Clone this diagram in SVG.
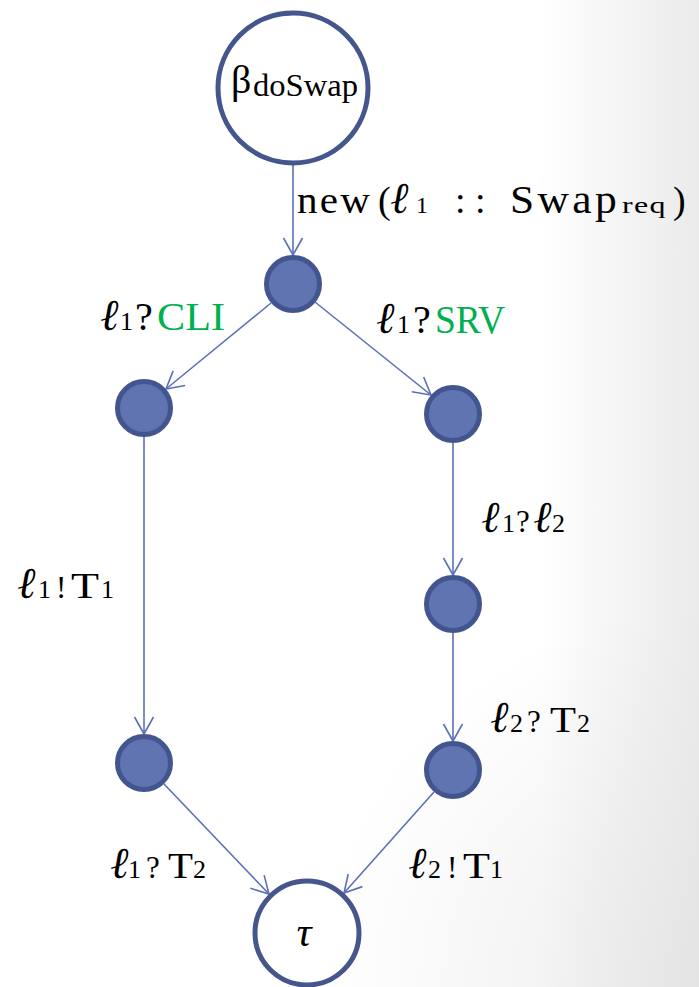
<svg xmlns="http://www.w3.org/2000/svg" width="699" height="987" viewBox="0 0 699 987">
<defs>
<linearGradient id="bgH" gradientUnits="userSpaceOnUse" x1="540" y1="0" x2="699" y2="0">
<stop offset="0" stop-color="#e2e2e2" stop-opacity="0"/>
<stop offset="1" stop-color="#e2e2e2" stop-opacity="0.7"/>
</linearGradient>
<radialGradient id="bgR" gradientUnits="userSpaceOnUse" cx="699" cy="987" r="380">
<stop offset="0" stop-color="#e0e0e0" stop-opacity="0.6"/>
<stop offset="1" stop-color="#e0e0e0" stop-opacity="0"/>
</radialGradient>
<marker id="arr" markerUnits="userSpaceOnUse" markerWidth="24" markerHeight="24" viewBox="-20 -12 24 24" refX="0" refY="0" orient="auto">
<path d="M-17,-9.5 L0,0 L-17,9.5" fill="none" stroke="#5b70b8" stroke-width="1.6"/>
</marker>
</defs>
<style>
.big{fill:#fff;stroke:#45568c;stroke-width:5}
.dot{fill:#5f74b0;stroke:#43558e;stroke-width:5}
.edge{stroke:#5b70b8;stroke-width:1.6;fill:none;marker-end:url(#arr)}
text{font-family:"Liberation Serif",serif;fill:#000}
.ell{font-weight:bold;font-style:italic;font-size:44px}
.sub{font-size:26px}
.g{font-size:31px}
.tt{font-size:35px}
.cl{fill:#00b050;font-size:41px}
</style>
<rect width="699" height="987" fill="#fff"/>
<rect width="699" height="987" fill="url(#bgH)"/>
<rect width="699" height="987" fill="url(#bgR)"/>

<g id="connectors">
<line class="edge" x1="293" y1="165" x2="293" y2="255"/>
<line class="edge" x1="271" y1="303" x2="166" y2="389"/>
<line class="edge" x1="315" y1="302" x2="431" y2="395"/>
<line class="edge" x1="144" y1="437" x2="144" y2="734"/>
<line class="edge" x1="453" y1="443" x2="453" y2="575"/>
<line class="edge" x1="453" y1="633" x2="453" y2="741"/>
<line class="edge" x1="164" y1="784" x2="269" y2="894"/>
<line class="edge" x1="434" y1="792" x2="344" y2="893"/>
</g>

<g id="n-start">
<circle class="big" cx="293" cy="88" r="75"/>
<text y="93"><tspan x="231" font-size="40px">β</tspan><tspan x="253" y="96" font-size="31px" textLength="105" lengthAdjust="spacingAndGlyphs">doSwap</tspan></text>
</g>
<g id="n-a"><circle class="dot" cx="293" cy="284" r="26.5"/></g>
<g id="n-b"><circle class="dot" cx="144" cy="408" r="26.5"/></g>
<g id="n-c"><circle class="dot" cx="453" cy="414" r="26.5"/></g>
<g id="n-d"><circle class="dot" cx="144" cy="763" r="26.5"/></g>
<g id="n-e"><circle class="dot" cx="453" cy="604" r="26.5"/></g>
<g id="n-f"><circle class="dot" cx="453" cy="770" r="26.5"/></g>
<g id="n-end">
<circle class="big" cx="307" cy="933" r="52" stroke-width="6"/>
<text x="304" y="946" text-anchor="middle" font-style="italic" font-size="42px">τ</text>
</g>

<g id="labels">
<text y="213"><tspan x="297" font-size="38px" letter-spacing="2" textLength="75" lengthAdjust="spacingAndGlyphs">new</tspan><tspan x="378" font-size="38px">(</tspan><tspan x="391" class="ell" font-size="38px">ℓ</tspan><tspan x="416" font-size="24px">1</tspan><tspan x="455" font-size="38px">:</tspan><tspan x="475" font-size="38px">:</tspan><tspan x="510" font-size="39px" letter-spacing="3" textLength="110" lengthAdjust="spacingAndGlyphs">Swap</tspan><tspan x="622" font-size="23px" letter-spacing="1" textLength="45" lengthAdjust="spacingAndGlyphs">req</tspan><tspan x="673" font-size="38px">)</tspan></text>

<text y="330"><tspan x="101" class="ell">ℓ</tspan><tspan x="120" class="sub">1</tspan><tspan x="135" font-size="40px">?</tspan><tspan x="157" class="cl" textLength="68" lengthAdjust="spacingAndGlyphs">CLI</tspan></text>
<text y="333"><tspan x="377" class="ell">ℓ</tspan><tspan x="397" class="sub">1</tspan><tspan x="413" font-size="40px">?</tspan><tspan x="435" class="cl" textLength="70" lengthAdjust="spacingAndGlyphs">SRV</tspan></text>

<text y="532"><tspan x="482" class="ell">ℓ</tspan><tspan x="502" class="sub">1</tspan><tspan x="516" class="g">?</tspan><tspan x="534" class="ell">ℓ</tspan><tspan x="552" class="sub">2</tspan></text>
<text y="598"><tspan x="18" class="ell">ℓ</tspan><tspan x="38" class="sub">1</tspan><tspan x="56" class="g">!</tspan><tspan x="71" class="tt" textLength="28" lengthAdjust="spacingAndGlyphs">T</tspan><tspan x="101" class="sub">1</tspan></text>
<text y="732"><tspan x="491" class="ell">ℓ</tspan><tspan x="510" class="sub">2</tspan><tspan x="527" class="g">?</tspan><tspan x="550" class="tt" textLength="26" lengthAdjust="spacingAndGlyphs">T</tspan><tspan x="577" class="sub">2</tspan></text>
<text y="878"><tspan x="111" class="ell">ℓ</tspan><tspan x="128" class="sub">1</tspan><tspan x="146" class="g">?</tspan><tspan x="168" class="tt" textLength="25" lengthAdjust="spacingAndGlyphs">T</tspan><tspan x="193" class="sub">2</tspan></text>
<text y="878"><tspan x="409" class="ell">ℓ</tspan><tspan x="428" class="sub">2</tspan><tspan x="447" class="g">!</tspan><tspan x="463" class="tt" textLength="27" lengthAdjust="spacingAndGlyphs">T</tspan><tspan x="490" class="sub">1</tspan></text>
</g>
</svg>
